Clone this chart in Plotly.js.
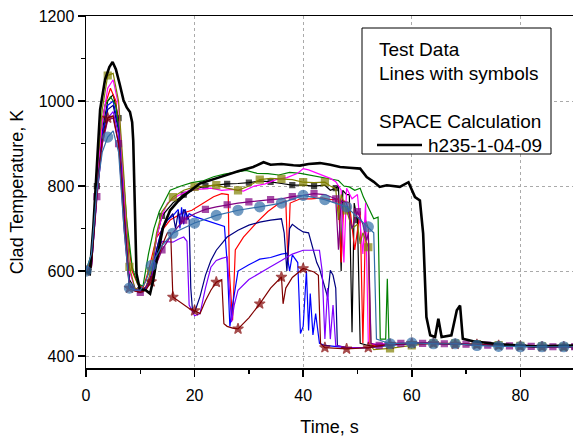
<!DOCTYPE html>
<html><head><meta charset="utf-8">
<script src="https://cdn.plot.ly/plotly-3.0.1.min.js"></script>
<style>html,body{margin:0;padding:0;background:#fff}#plot{width:573px;height:437px}</style>
</head><body><div id="plot"></div>
<script>
// ---- data ----
const spaceT = [0,0.7,1.35,2,2.6,3.5,4.3,4.9,5.5,6.2,6.9,7.5,8.1,8.5,8.7,9.0,9.3,9.9,11,11.8,12.4,13,14.2,15.5,17,18.5,21,24.7,28,30.8,32.7,34,36,38.2,39.4,41,43.1,45,46.8,48.5,50.5,51.7,53,54.1,55.4,57.8,59.4,60.6,61.5,62.1,62.7,63.4,64.3,64.9,65.5,67.3,68.3,68.9,69.4,71.3,76.2,82.4,90];
const spaceK = [600,594,703,850,980,1050,1080,1092,1075,1040,1002,985,974,950,907,750,594,558,555,547,580,625,703,743,765,782,806,821,835,845,856,850,852,849,848,852,854,850,845,843,841,821,810,798,802,798,809,774,766,688,492,449,445,488,445,449,508,519,441,435,428,423,425];

const blackT = [0,1,2,3,4,5,6,7,8,9,10,11,12,13,14,16,18,20,22,24,26,28,30,32,34,36,38,40,42,44,45,46,46.5,47,47.3,48,48.5,49,49.4,50,50.5,52,56,60,64,68,72,76,80,84,88,90];
const blackK = [600,620,800,930,1000,1015,960,760,580,558,555,562,590,680,730,760,780,792,800,802,805,806,808,812,810,806,802,802,800,802,790,795,800,600,790,780,780,456,760,720,430,425,428,430,430,428,427,425,423,422,422,422];

const redT = [0,1,2,3,3.5,4.5,5.5,6.5,7.5,8.5,9.5,10.5,11.5,13,15.5,17.5,19.5,21.5,23.5,25,26.2,26.4,27,27.5,29,31.5,33.5,35.5,36.8,37.2,37.6,39.5,41.5,43.5,45,46.5,47,47.5,48.5,49.5,50.5,51,51.5,52,52.3,53,55.5,59.5,63.5,67.5,71.5,75.5,79.5,83.5,87.5,90];
const redK = [600,630,820,950,990,1030,1000,870,700,600,570,560,600,680,720,735,743,760,775,782,780,600,484,650,680,715,740,759,765,620,760,770,770,772,768,770,620,765,760,650,740,430,720,700,430,425,428,430,430,428,427,425,423,422,422,422];

const blueT = [0,1,2,3,4,5,6,7,8,9,10,11,12,13,14,15,16,17,17.3,17.6,18,18.3,18.6,19,20,22,24,25.5,26,26.5,27,28,30,32,34,36,37,37.5,38,39,39.5,40,40.6,41,41.3,41.8,42.3,43,44,48,52,56,60,64,68,72,76,80,84,88,90];
const blueK = [600,620,790,920,990,1000,940,740,570,555,552,560,590,650,700,720,730,745,700,750,710,745,720,735,728,720,712,705,620,470,520,600,615,628,632,640,642,600,638,620,453,470,600,460,547,450,500,430,425,420,420,428,430,430,428,427,425,423,422,422,422];

const greenT = [0,1,1.5,2.5,3.5,4.5,5.5,6.5,7.5,8.5,9.5,10.5,11.5,12.5,13.5,15.5,17.5,19.5,21.5,23.5,25.5,27.5,29.5,31.5,33.5,35.5,37.5,39.5,41.5,43.5,45.5,46.5,47.5,48.5,49.5,50.5,51.1,52,53,53.8,54.2,55.2,55.5,55.8,57.5,61.5,65.5,69.5,73.5,77.5,81.5,85.5,89.5];
const greenK = [600,640,720,900,990,1010,990,880,720,610,570,565,640,700,740,790,800,808,812,822,828,833,837,830,829,826,832,830,825,820,815,813,800,798,790,795,774,750,723,727,440,440,582,432,430,430,430,428,427,425,423,422,422];

const magentaT = [0,1,2,3,4,5,6,7,8,9,10,11,12,13,14,15,17,19,21,23,25,27,29,31,33,35,37,39,40,41,43,45,46,47,47.5,48,49,50,51,51.5,52,53,57,61,65,69,73,77,81,85,89,90];
const magentaK = [600,625,815,950,1030,1050,990,800,600,560,555,560,600,680,730,760,778,790,792,795,790,792,788,800,805,815,820,830,841,838,828,818,810,790,620,795,770,780,640,760,430,428,430,430,430,428,426,424,423,422,422,422];

const oliveT = [0,1,2,3,4,5,6,7,8,9,10,11,12,13,14,16,18,20,22,24,26,28,30,32,34,36,38,40,42,44,45,46,46.5,47,48,49,50,50.5,51,52,52.5,53,56,60,64,68,72,76,80,84,88,90];
const oliveK = [600,630,830,980,1060,1065,1000,820,610,560,555,560,600,690,740,774,790,798,800,802,795,790,800,815,818,817,815,809,808,809,800,794,720,780,743,700,710,664,690,656,425,415,418,425,430,430,428,426,424,423,422,422];

const navyT = [0,1,2,3,4,5,6,7,8,9,10,11,12,13,14,15,16,16.5,17,17.5,18,18.5,19,19.3,19.6,20,21,22,23,24,26,28,30,32,34,36,36.5,37,37.5,38,39,40,41,42,42.5,43,44,44.5,45,45.5,46,46.3,48,52,56,60,64,68,72,76,80,84,88,90];
const navyK = [600,610,780,910,980,990,930,720,565,555,552,560,585,650,700,720,735,700,740,710,745,735,720,560,510,503,540,590,625,649,680,696,708,715,720,723,690,600,700,710,700,692,690,640,620,606,560,539,602,590,560,425,420,420,425,430,430,428,427,425,423,422,422,422];

const violetT = [0,1,2,3,4,5,6,7,8,9,10,11,12,13,14,16,17,18,18.6,19,20,21,22,23,24,25,26,26.4,26.8,27.3,28,30,32,34,36,38,40,42,43,43.5,44,44.5,45,45.5,46,48,52,56,60,64,68,72,76,80,84,88,90];
const violetK = [600,610,770,900,960,975,920,720,565,555,552,558,580,640,670,668,675,680,670,520,495,500,560,609,625,630,633,560,480,520,555,580,594,610,625,640,649,650,649,600,440,560,440,520,425,420,420,428,430,430,428,427,425,423,422,422,422];

const purpleT = [0,1,2,3,4,5,6,7,8,9,10,11,12,14,16,18,20,22,24,26,28,30,32,34,36,38,40,42,44,45,46,46.5,47,48,49,50,51,51.7,52,52.5,54,58,62,66,70,74,78,82,86,90];
const purpleK = [600,615,775,900,955,960,900,700,560,553,550,558,585,650,690,720,735,745,751,756,760,763,766,768,770,775,778,782,780,775,770,650,765,760,700,740,710,672,690,430,425,430,430,429,428,426,424,423,422,422];

const maroonT = [0,1,2,3,4,5,6,7,8,9,10,11,12,13,14,15,15.6,16,17,18,19,20,21,22,23,24,25,25.4,26,27,28,30,32,34,36,36.3,36.8,38,40,42,42.8,43.2,44,48,52,56,60,64,68,72,76,80,84,88,90];
const maroonK = [600,610,780,910,960,965,900,720,560,553,550,555,575,620,660,690,690,539,530,520,512,507,500,530,555,574,580,476,470,466,464,490,523,560,586,523,560,585,606,598,590,429,420,417,420,428,430,430,428,427,425,423,422,422,422];

const steelT = [0,1,2,3,4,5,6,7,8,9,10,11,12,14,16,20,24,28,32,36,40,44,48,52,53,53.5,56,60,64,68,72,76,80,84,88,90];
const steelK = [600,640,790,880,915,930,880,700,560,555,555,575,613,660,689,713,731,743,751,760,778,768,751,704,690,440,429,431,429,429,425,423,422,422,422,422];

const legendLines = ['Test Data','Lines with symbols','SPACE Calculation'];
const spaceName = 'h235-1-04-09';
const xTitle = 'Time, s';
const yTitle = 'Clad Temperature, K';

// ---- styling ----
function markSizes(t, phase, size){
  return t.map(v => { const r = (((v - phase) % 4) + 4) % 4; return (r < 1e-6 || 4 - r < 1e-6) ? size : 0; });
}
function testTrace(t, k, color, symbol, phase, size, filled){
  return {x:t, y:k, type:'scatter', mode:'lines+markers', showlegend:false, hoverinfo:'skip',
    line:{color:color, width:1.2},
    marker:{symbol:symbol, size:markSizes(t, phase, size), color: filled ? color : 'rgba(0,0,0,0)',
      line:{color:color, width:1.2}}};
}
const traces = [
  testTrace(blackT, blackK, '#000000', 'square', 2, 5, true),
  testTrace(redT, redK, '#FF0000', 'circle-open', 3.5, 9, false),
  testTrace(blueT, blueK, '#0000FF', 'triangle-up-open', 0, 9, false),
  testTrace(greenT, greenK, '#008000', 'diamond-open', 1.5, 9, false),
  testTrace(magentaT, magentaK, '#FF00FF', 'triangle-down-open', 1, 8, false),
  testTrace(oliveT, oliveK, '#808000', 'square', 0, 7, true),
  testTrace(navyT, navyK, '#000080', 'star-square-open', 0, 11, false),
  testTrace(violetT, violetK, '#8000FF', 'triangle-right-open', 0, 9, false),
  testTrace(purpleT, purpleK, '#800080', 'square', 2, 6, true),
  testTrace(maroonT, maroonK, '#800000', 'star', 0, 8, true),
  {x:spaceT, y:spaceK, type:'scatter', mode:'lines', name:spaceName, showlegend:false, hoverinfo:'skip',
    line:{color:'#000000', width:2.6}},
  testTrace(steelT, steelK, '#336EA8', 'circle', 0, 10, true)
];

const font = 'Liberation Sans, Arial, sans-serif';
// legend box geometry (paper fractions of the plot area)
const PL = 86, PT = 16, PW = 487, PH = 352;
const px = v => (v - PL) / PW, py = v => (PT + PH - v) / PH;
const legFont = {family:font, size:19, color:'#000'};
const shapes = [
  {type:'rect', xref:'paper', yref:'paper', x0:px(362), x1:px(551), y0:py(154), y1:py(28),
    line:{color:'#000', width:1}, fillcolor:'#fff', layer:'above'},
  {type:'line', xref:'paper', yref:'paper', x0:px(377), x1:px(422), y0:py(145), y1:py(145),
    line:{color:'#000', width:2.6}, layer:'above'}
];
const annotations = [
  {text:legendLines[0], x:px(377), y:py(49)},
  {text:legendLines[1], x:px(377), y:py(73)},
  {text:legendLines[2], x:px(377), y:py(121)},
  {text:spaceName, x:px(426), y:py(145)}
].map(a => Object.assign({xref:'paper', yref:'paper', xanchor:'left', yanchor:'middle', showarrow:false, font:legFont}, a));

const layout = {
  width:573, height:437,
  margin:{l:PL, r:573-PL-PW, t:PT, b:437-PT-PH},
  paper_bgcolor:'#fff', plot_bgcolor:'#fff',
  font:{family:font, size:16, color:'#000'},
  showlegend:false, shapes:shapes, annotations:annotations,
  xaxis:{range:[0,89.7], tickvals:[0,20,40,60,80], ticks:'outside', ticklen:7, tickwidth:1.5, tickcolor:'#000',
    ticklabelstandoff:5,
    showline:true, linewidth:1.5, linecolor:'#000', mirror:true, zeroline:false,
    showgrid:true, gridcolor:'#aaa', griddash:'dot', gridwidth:1,
    minor:{dtick:10, tick0:0, ticks:'outside', ticklen:4, tickcolor:'#000', tickwidth:1.5, showgrid:false},
    tickfont:{family:font, size:16}, title:{text:xTitle, font:{family:font, size:18}, standoff:22}},
  yaxis:{range:[372,1200], tickvals:[400,600,800,1000,1200], ticks:'outside', ticklen:7, tickwidth:1.5, tickcolor:'#000',
    showline:true, linewidth:1.5, linecolor:'#000', mirror:true, zeroline:false,
    showgrid:true, gridcolor:'#aaa', griddash:'dot', gridwidth:1,
    minor:{dtick:100, tick0:0, ticks:'outside', ticklen:4, tickcolor:'#000', tickwidth:1.5, showgrid:false},
    tickfont:{family:font, size:16}, title:{text:yTitle, font:{family:font, size:18}, standoff:10}}
};
Plotly.newPlot('plot', traces, layout, {staticPlot:true, displayModeBar:false});
</script></body></html>
